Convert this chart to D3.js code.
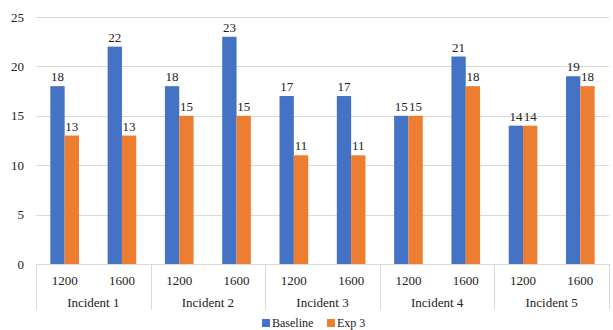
<!DOCTYPE html>
<html><head><script src="https://cdn.jsdelivr.net/npm/d3@7"></script></head>
<body style="margin:0">
<svg id="chart" width="613" height="330" font-family="Times New Roman"></svg>
<script>
const incidents = ["Incident 1", "Incident 2", "Incident 3", "Incident 4", "Incident 5"];
const sizes = ["1200", "1600"];
const seriesNames = ["Baseline", "Exp 3"];
const baseline = [18, 22, 18, 23, 17, 17, 15, 21, 14, 19];
const exp3 = [13, 13, 15, 15, 11, 11, 15, 18, 14, 18];
const yTicks = [0, 5, 10, 15, 20, 25];
const colors = ["#4472C4", "#ED7D31"];

const FONT = "Times New Roman";
const svg = d3.select("#chart");
const plotLeft = 36, plotRight = 609, plotTop = 17, plotBottom = 264;

// one slot per (incident, size) pair
const slots = [];
incidents.forEach(inc => sizes.forEach(s => slots.push({ inc, s })));
const slotKeys = slots.map((d, i) => i);

const x = d3.scaleBand().domain(slotKeys).range([plotLeft, plotRight]);
const xInc = d3.scaleBand().domain(incidents).range([plotLeft, plotRight]);
const sub = d3.scaleBand().domain(seriesNames).range([x.bandwidth() * 0.25, x.bandwidth() * 0.75]);
const y = d3.scaleLinear().domain([0, 25]).range([plotBottom, plotTop]);

// horizontal gridlines
svg.append("g").selectAll("line").data(yTicks.filter(t => t > 0)).join("line")
  .attr("x1", plotLeft).attr("x2", plotRight)
  .attr("y1", d => Math.round(y(d)) + 0.5).attr("y2", d => Math.round(y(d)) + 0.5)
  .attr("stroke", "#d9d9d9").attr("stroke-width", 1);

// y-axis labels
const yAxis = d3.axisLeft(y).tickValues(yTicks).tickSize(0).tickPadding(12);
const gy = svg.append("g").attr("transform", `translate(${plotLeft},0)`).call(yAxis);
gy.attr("font-family", FONT).attr("font-size", 13);
gy.select(".domain").remove();
gy.selectAll("text").attr("fill", "#222").attr("font-family", FONT);

// bars
const values = [baseline, exp3];
seriesNames.forEach((name, si) => {
  const g = svg.append("g");
  g.selectAll("rect").data(values[si]).join("rect")
    .attr("x", (d, i) => x(i) + sub(name))
    .attr("y", d => y(d))
    .attr("width", sub.bandwidth())
    .attr("height", d => y(0) - y(d))
    .attr("fill", colors[si]);
  g.selectAll("text").data(values[si]).join("text")
    .attr("x", (d, i) => x(i) + sub(name) + sub.bandwidth() / 2)
    .attr("y", d => y(d) - 5)
    .attr("text-anchor", "middle")
    .attr("font-size", 13)
    .attr("font-family", FONT)
    .attr("fill", "#222")
    .text(d => d);
});

// x axis line
svg.append("line").attr("x1", plotLeft).attr("x2", plotRight)
  .attr("y1", plotBottom + 0.5).attr("y2", plotBottom + 0.5)
  .attr("stroke", "#d9d9d9");

// group dividers
const dividers = incidents.map(d => xInc(d)).concat([plotRight]);
svg.append("g").selectAll("line").data(dividers).join("line")
  .attr("x1", d => Math.round(d) + 0.5).attr("x2", d => Math.round(d) + 0.5)
  .attr("y1", plotBottom).attr("y2", 310)
  .attr("stroke", "#d9d9d9");

// size labels
svg.append("g").selectAll("text").data(slots).join("text")
  .attr("x", (d, i) => x(i) + x.bandwidth() / 2)
  .attr("y", 285)
  .attr("text-anchor", "middle")
  .attr("font-size", 13)
  .attr("font-family", FONT)
  .attr("fill", "#222")
  .text(d => d.s);

// incident labels
svg.append("g").selectAll("text").data(incidents).join("text")
  .attr("x", d => xInc(d) + xInc.bandwidth() / 2)
  .attr("y", 307)
  .attr("text-anchor", "middle")
  .attr("font-size", 13)
  .attr("font-family", FONT)
  .attr("fill", "#222")
  .text(d => d);

// legend
const legend = svg.append("g").attr("transform", "translate(262,327)");
const lx = [0, 65];
seriesNames.forEach((name, i) => {
  legend.append("rect").attr("x", lx[i]).attr("y", -8).attr("width", 8).attr("height", 8).attr("fill", colors[i]);
  legend.append("text").attr("x", lx[i] + 10).attr("y", 0)
    .attr("font-size", 12).attr("font-family", FONT).attr("fill", "#222").text(name);
});
</script>
</body>
</html>
